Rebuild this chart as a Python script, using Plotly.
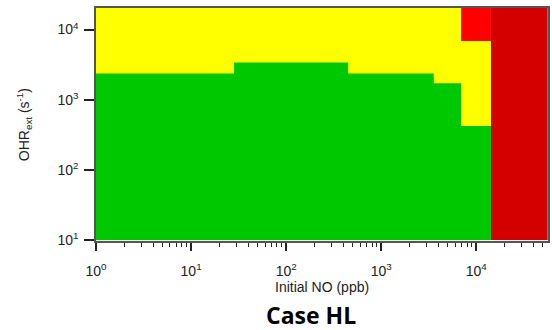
import plotly.graph_objects as go

# ---- data ----
no_edges = [1, 28.3, 449, 3573, 6920, 14260, 56300]      # Initial NO (ppb) region edges
green_top = [2366, 3400, 2366, 1721, 423]                # OHRext upper edge of green region per segment
red_bottom = 6850                                        # lower edge of bright-red block (segment 5)
ohr_min, ohr_max = 10, 20300

x_tickvals = [1, 10, 100, 1000, 10000]
x_ticktext = ["10<sup>0</sup>", "10<sup>1</sup>", "10<sup>2</sup>", "10<sup>3</sup>", "10<sup>4</sup>"]
y_tickvals = [10, 100, 1000, 10000]
y_ticktext = ["10<sup>1</sup>", "10<sup>2</sup>", "10<sup>3</sup>", "10<sup>4</sup>"]

C_YELLOW = "#FFFF00"
C_GREEN = "#00C800"
C_RED = "#FF0000"
C_DARKRED = "#D40000"

fig = go.Figure()

def rect(x0, x1, y0, y1):
    return [x0, x1, x1, x0, x0], [y0, y0, y1, y1, y0]

# yellow background region
xs, ys = rect(no_edges[0], no_edges[5], ohr_min, ohr_max)
fig.add_trace(go.Scatter(x=xs, y=ys, fill="toself", fillcolor=C_YELLOW, mode="lines",
                         line=dict(width=0), hoverinfo="skip"))

# green step region
gx, gy = [no_edges[0]], [ohr_min]
for i, top in enumerate(green_top):
    gx += [no_edges[i], no_edges[i + 1]]
    gy += [top, top]
gx += [no_edges[5], no_edges[0]]
gy += [ohr_min, ohr_min]
fig.add_trace(go.Scatter(x=gx, y=gy, fill="toself", fillcolor=C_GREEN, mode="lines",
                         line=dict(width=0), hoverinfo="skip"))

# bright red block
xs, ys = rect(no_edges[4], no_edges[5], red_bottom, ohr_max)
fig.add_trace(go.Scatter(x=xs, y=ys, fill="toself", fillcolor=C_RED, mode="lines",
                         line=dict(width=0), hoverinfo="skip"))

# dark red column
xs, ys = rect(no_edges[5], no_edges[6], ohr_min, ohr_max)
fig.add_trace(go.Scatter(x=xs, y=ys, fill="toself", fillcolor=C_DARKRED, mode="lines",
                         line=dict(width=0), hoverinfo="skip"))

font_main = "Liberation Sans, Arial, sans-serif"

fig.update_layout(
    width=552, height=330,
    margin=dict(l=96, r=2, t=8, b=89),
    paper_bgcolor="white", plot_bgcolor="white",
    showlegend=False,
    font=dict(family=font_main, size=13, color="#222"),
    xaxis=dict(
        type="log", range=[0, 4.754],
        tickmode="array", tickvals=x_tickvals, ticktext=x_ticktext,
        ticks="outside", ticklen=8, tickwidth=1.5, tickcolor="#222",
        ticklabelstandoff=8,
        minor=dict(ticks="outside", ticklen=4, tickwidth=1, tickcolor="#222",
                   tickvals=[m * d for d in [1, 10, 100, 1000, 10000] for m in range(2, 10)
                             if m * d < 56300]),
        showgrid=False, zeroline=False,
        showline=True, linecolor="#555", linewidth=1.5, mirror=True,
        tickfont=dict(size=14, color="#222"),
    ),
    yaxis=dict(
        type="log", range=[0.986, 4.307],
        tickmode="array", tickvals=y_tickvals, ticktext=y_ticktext,
        ticks="outside", ticklen=10, tickwidth=1.5, tickcolor="#222",
        ticklabelstandoff=3,
        showgrid=False, zeroline=False,
        showline=True, linecolor="#555", linewidth=1.5, mirror=True,
        tickfont=dict(size=14, color="#222"),
    ),
    annotations=[
        dict(text="Initial NO (ppb)", xref="paper", yref="paper", x=0.5, y=-0.198,
             xanchor="center", yanchor="middle", showarrow=False,
             font=dict(family=font_main, size=14, color="#222")),
        dict(text="OHR<sub>ext</sub> (s<sup>-1</sup>)", xref="paper", yref="paper",
             x=-0.16, y=0.5, xanchor="center", yanchor="middle", textangle=-90,
             showarrow=False, font=dict(family=font_main, size=14, color="#222")),
        dict(text="<b>Case HL</b>", xref="paper", yref="paper", x=0.476, y=-0.318,
             xanchor="center", yanchor="middle", showarrow=False,
             font=dict(family="Open Sans, sans-serif", size=23, color="black")),
    ],
)

fig.write_html("out.html", config={"displayModeBar": False},
               post_script="document.body.style.margin='0';document.body.style.overflow='hidden';")
